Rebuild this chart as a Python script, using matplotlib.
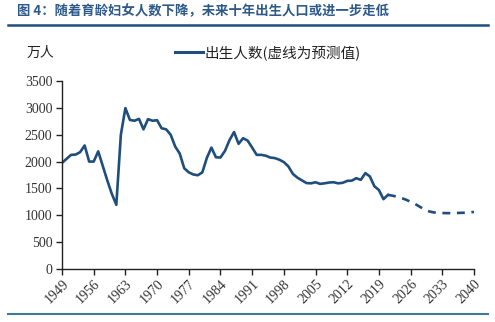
import matplotlib
matplotlib.use("Agg")
import matplotlib.pyplot as plt
from matplotlib.lines import Line2D

plt.rcParams['font.family'] = ['Noto Sans CJK SC', 'DejaVu Sans']

# births, 10k persons (actual, solid)
years_actual = list(range(1949, 2022))
births_actual = [1975, 2050, 2125, 2130, 2175, 2300, 2000, 2000, 2190, 1920,
                 1650, 1400, 1195, 2500, 2995, 2775, 2760, 2795, 2600, 2790,
                 2760, 2770, 2620, 2600, 2500, 2280, 2150, 1875, 1800, 1760,
                 1745, 1800, 2070, 2260, 2080, 2075, 2200, 2400, 2550, 2330,
                 2435, 2390, 2260, 2125, 2125, 2110, 2075, 2065, 2035, 1990,
                 1910, 1770, 1700, 1650, 1600, 1595, 1615, 1585, 1595, 1610,
                 1615, 1595, 1605, 1640, 1645, 1690, 1660, 1785, 1723, 1540,
                 1470, 1300, 1380]
# forecast (dashed)
years_fc = list(range(2021, 2041))
births_fc = [1380, 1365, 1345, 1320, 1290, 1250, 1210, 1160, 1110, 1075,
             1055, 1045, 1042, 1040, 1040, 1042, 1045, 1048, 1055, 1062]

xticks = list(range(1949, 2041, 7))
yticks = list(range(0, 3501, 500))

title = "图 4：随着育龄妇女人数下降，未来十年出生人口或进一步走低"
unit = "万人"
legend_label = "出生人数(虚线为预测值)"

line_color = "#1f4e7c"
serif = ['Liberation Serif', 'DejaVu Serif']

fig = plt.figure(figsize=(4.95, 3.22), dpi=100)
ax = fig.add_axes([62 / 495, 1 - 269 / 322, 412 / 495, 188 / 322])

ax.plot(years_actual, births_actual, color=line_color, lw=1.9, solid_joinstyle='round')
ax.plot(years_fc, births_fc, color=line_color, lw=1.9, dashes=(3, 2.5))

ax.set_xlim(1949, 2040)
ax.set_ylim(0, 3500)
ax.set_xticks(xticks)
ax.set_yticks(yticks)
ax.set_xticklabels([str(t) for t in xticks], rotation=45, ha='right',
                   rotation_mode='anchor', family=serif, fontsize=10, color='#333333')
ax.set_yticklabels([str(t) for t in yticks], family=serif, fontsize=10, color='#333333')
ax.tick_params(direction='out', length=4, width=1, color='#222222', pad=3)
ax.tick_params(axis='x', pad=2)
for s in ['top', 'right']:
    ax.spines[s].set_visible(False)
for s in ['left', 'bottom']:
    ax.spines[s].set_color('#222222')
    ax.spines[s].set_linewidth(1)

fig.text(17 / 495, 1 - 11 / 322, title, fontsize=9.6, color='#2d5a8a',
         fontweight='bold', va='center', ha='left')
fig.add_artist(Line2D([8 / 495, 488 / 495], [1 - 25 / 322, 1 - 25 / 322],
                      color='#1f4e7c', lw=1.8))
fig.add_artist(Line2D([8 / 495, 488 / 495], [1 - 314 / 322, 1 - 314 / 322],
                      color='#3f7a96', lw=1.5))
fig.text(27 / 495, 1 - 53 / 322, unit, fontsize=10, color='#222222', va='center')
fig.add_artist(Line2D([175 / 495, 203 / 495], [1 - 52 / 322, 1 - 52 / 322],
                      color=line_color, lw=2.2))
fig.text(205 / 495, 1 - 53 / 322, legend_label, fontsize=10.5, color='#222222', va='center')

fig.savefig("out.png", dpi=100)
